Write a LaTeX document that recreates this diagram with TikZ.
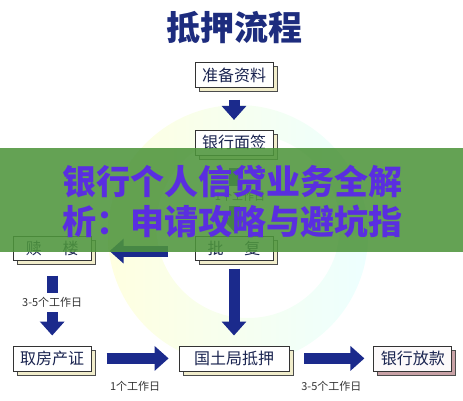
\documentclass[tikz,border=0pt]{standalone}
\usepackage{fontspec}
\setmainfont{Noto Sans CJK SC}
\usetikzlibrary{
  arrows.meta,
  positioning,
  shadows
}
\usepackage{xcolor}
\definecolor{lcnavy}{HTML}{1B2A8C}
\definecolor{lctitle}{HTML}{1D2C7E}
\definecolor{lctext}{HTML}{1A2450}
\definecolor{lccream}{HTML}{F1EDCB}
\definecolor{lcpink}{HTML}{C9A2A6}
\definecolor{lcgreen}{HTML}{4E953C}
\definecolor{lcpurple}{HTML}{5A2EE0}

\begin{document}
\begin{tikzpicture}[
  x=1pt, y=-1pt,
  node distance=42pt,
  box/.style={draw=black!80, line width=0.8pt, fill=white, minimum width=78pt,
    minimum height=25pt, inner sep=2pt, font=\fontsize{16}{16}\selectfont,
    text=lctext, align=center,
    copy shadow={shadow xshift=4pt, shadow yshift=-4pt, fill=lccream, draw=black!70}},
  pinkbox/.style={box, fill=white!94!lcpink,
    copy shadow={shadow xshift=4pt, shadow yshift=-4pt, fill=lcpink, draw=black!70}},
  blockarrow/.style={-{Triangle[width=24pt, length=14pt]}, line width=11pt, lcnavy},
  stem/.style={line width=11pt, lcnavy},
  daylabel/.style={font=\fontsize{11}{11}\selectfont, text=black!80, inner sep=0pt}
]
  \useasboundingbox (0,0) rectangle (463,400);

  % --- watermark ring ---
  \shade[left color=yellow!12, right color=cyan!7, even odd rule]
    (238,235) circle[radius=130] (248,226) circle[radius=92];

  % --- title ---
  \node[font=\fontsize{34}{34}\selectfont\bfseries, text=lctitle] (title) at (234,28) {抵押流程};

  % --- main column ---
  \node[box] (ziliao) at (234,75) {准备资料};
  \node[box, below=42pt of ziliao] (mianqian) {银行面签};
  \node[box, below=80pt of mianqian, minimum height=24pt] (pifu) {批\hspace{1.3em}复};

  % --- left column ---
  \node[box, left=103pt of pifu, minimum height=24pt] (shulou) {赎\hspace{1.3em}楼};
  \node[box, below=85pt of shulou] (qufang) {取房产证};

  % --- bottom row ---
  \node[box, below=85pt of pifu, minimum width=110pt] (guotu) {国土局抵押};
  \node[pinkbox, right=84pt of guotu] (fangkuan) {银行放款};

  % --- day labels ---
  \node[daylabel] (day1) at (240,196) {1个工作日};
  \node[daylabel, below=37pt of shulou] (day2) {3-5个工作日};

  % ziliao -> mianqian
  \draw[blockarrow, shorten <=12pt, shorten >=10pt] (ziliao) -- (mianqian);

  % mianqian -> pifu
  \draw[stem, shorten <=12pt, shorten >=5pt] (mianqian) -- (mianqian |- day1.north);
  \draw[blockarrow, shorten <=5pt, shorten >=4pt] (mianqian |- day1.south) -- (pifu);

  % pifu -> shulou
  \draw[blockarrow, shorten <=27pt, shorten >=18pt] ([yshift=-3pt]pifu.west) -- ([yshift=-3pt]shulou.east);

  % shulou -> qufang
  \draw[stem, shorten <=15pt, shorten >=5pt] (shulou) -- (day2);
  \draw[blockarrow, shorten <=4pt, shorten >=10pt] (day2) -- (qufang);

  % pifu -> guotu
  \draw[blockarrow, shorten <=8pt, shorten >=10pt] (pifu) -- (guotu);

  % bottom row arrows
  \draw[blockarrow, shorten <=15pt, shorten >=10pt] (qufang) --
    node[daylabel, below=17.5pt] (day3) {1个工作日} (guotu);
  \draw[blockarrow, shorten <=15pt, shorten >=9pt] (guotu) --
    node[daylabel, below=17.5pt] (day4) {3-5个工作日} (fangkuan);

  % --- banner ---
  \fill[lcgreen, opacity=0.88] (0,148) rectangle (463,252);
  \node[anchor=west, align=left, text=lcpurple, inner sep=0pt,
    font=\fontsize{34}{40}\selectfont\bfseries] (banner) at (62,202)
    {银行个人信贷业务全解\\析：申请攻略与避坑指};

\end{tikzpicture}
\end{document}
